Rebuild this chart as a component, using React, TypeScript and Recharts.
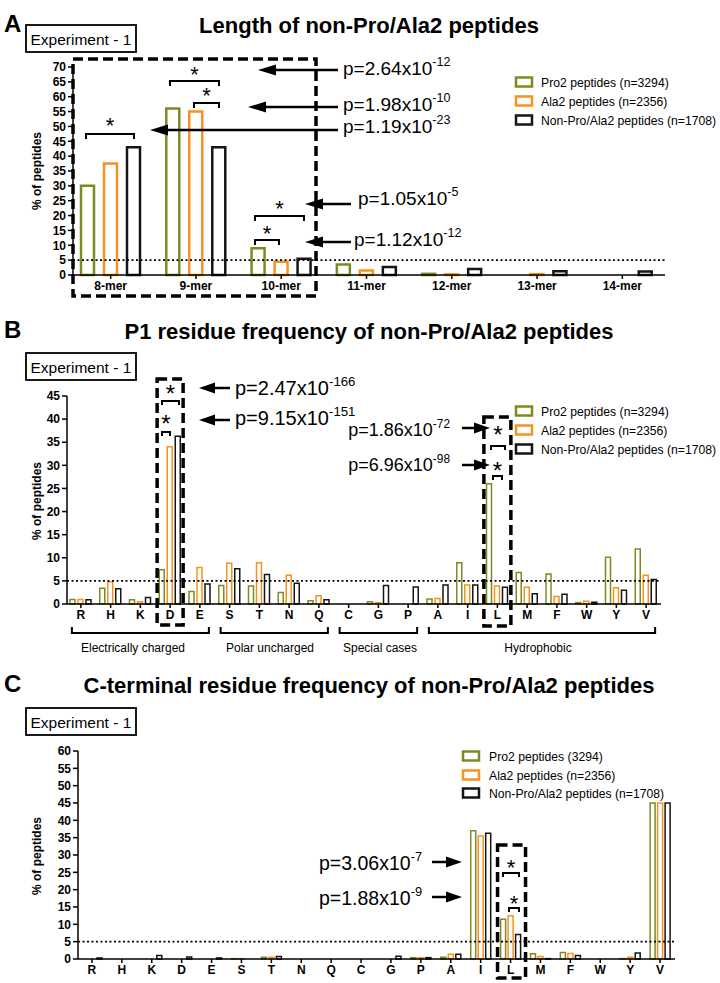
import React from 'react';
import { BarChart, Bar, XAxis, YAxis, ReferenceLine } from 'recharts';

const FONT = '"Liberation Sans", Arial, Helvetica, sans-serif';
const GREEN = '#7e8a22';
const ORANGE = '#f6921e';
const BLACK = '#151515';

// A: peptide length
const lengthCats = ['8-mer', '9-mer', '10-mer', '11-mer', '12-mer', '13-mer', '14-mer'];
const lengthPro2 = [30, 56, 9, 3.5, 0.4, 0, 0];
const lengthAla2 = [37.5, 55, 4.5, 1.5, 0.2, 0.3, 0];
const lengthNon = [43, 43, 5.5, 2.7, 2, 1.3, 1.2];
const ticksA = [0, 5, 10, 15, 20, 25, 30, 35, 40, 45, 50, 55, 60, 65, 70];

// B and C share the residue order
const residues = ['R', 'H', 'K', 'D', 'E', 'S', 'T', 'N', 'Q', 'C', 'G', 'P', 'A', 'I', 'L', 'M', 'F', 'W', 'Y', 'V'];

// B: P1 residue
const p1Pro2 = [1.0, 3.4, 0.9, 7.4, 2.7, 4.0, 3.9, 2.5, 0.7, 0, 0.5, 0, 1.1, 8.9, 26, 6.8, 6.5, 0.3, 10.1, 11.9];
const p1Ala2 = [1.0, 4.8, 0.5, 34, 7.9, 8.8, 8.9, 6.2, 1.8, 0, 0.3, 0, 1.2, 4.1, 3.9, 3.6, 1.6, 0.6, 3.5, 6.2];
const p1Non = [0.9, 3.3, 1.4, 36.3, 4.3, 7.6, 6.4, 4.5, 0.9, 0, 4.0, 3.7, 4.1, 4.1, 3.6, 2.2, 2.1, 0.4, 3.0, 5.3];
const ticksB = [0, 5, 10, 15, 20, 25, 30, 35, 40, 45];

// C: C-terminal residue
const ctPro2 = [0, 0, 0, 0, 0, 0.1, 0.5, 0, 0, 0, 0, 0.4, 0.5, 37, 11.5, 1.5, 1.9, 0, 0.1, 45];
const ctAla2 = [0, 0, 0, 0, 0, 0.1, 0.5, 0, 0, 0, 0, 0.4, 1.4, 35.5, 12.5, 0.7, 1.6, 0, 0.5, 45];
const ctNon = [0.3, 0, 1.0, 0.6, 0.3, 0, 0.7, 0, 0, 0, 0.8, 0.4, 1.4, 36.3, 7.1, 0.1, 1.0, 0, 1.7, 45];
const ticksC = [0, 5, 10, 15, 20, 25, 30, 35, 40, 45, 50, 55, 60];

const legendAB = ['Pro2 peptides (n=3294)', 'Ala2 peptides (n=2356)', 'Non-Pro/Ala2 peptides (n=1708)'];
const legendC = ['Pro2 peptides (3294)', 'Ala2 peptides (n=2356)', 'Non-Pro/Ala2 peptides (n=1708)'];
const groups = [
  { label: 'Electrically charged', from: 0, to: 4, cx: 133 },
  { label: 'Polar uncharged', from: 5, to: 8, cx: 270 },
  { label: 'Special cases', from: 9, to: 11, cx: 380 },
  { label: 'Hydrophobic', from: 12, to: 19, cx: 538 },
];

const toRows = (cats: string[], a: number[], b: number[], c: number[]) =>
  cats.map((cat, i) => ({ cat, pro2: a[i], ala2: b[i], non: c[i] }));

type Geo = {
  top: number; height: number; left: number; right: number; padLeft: number;
  plotTop: number; plotBottom: number; n: number; barSize: number; barGap: number;
};

// left = where the y axis sits; padLeft shifts the category band start
const GA: Geo = { top: 0, height: 300, left: 73, right: 665, padLeft: -5, plotTop: 67, plotBottom: 275, n: 7, barSize: 13, barGap: 10 };
const GB: Geo = { top: 300, height: 330, left: 67, right: 661, padLeft: -1, plotTop: 396, plotBottom: 604, n: 20, barSize: 5, barGap: 3 };
const GC: Geo = { top: 620, height: 363, left: 78, right: 675, padLeft: -1, plotTop: 751, plotBottom: 959, n: 20, barSize: 5, barGap: 2.5 };

const catX = (g: Geo, i: number) => {
  const start = g.left + g.padLeft;
  return start + ((g.right - start) / g.n) * (i + 0.5);
};

const axisStyle = { stroke: '#000', strokeWidth: 1.5 };
const tickStyle = { fill: '#000', fontSize: 12, fontWeight: 700, fontFamily: FONT };

function Panel({ rows, geo, ticks, sw }: { rows: any[]; geo: Geo; ticks: number[]; sw: number }) {
  const margin = {
    top: geo.plotTop - geo.top,
    left: geo.left - 40,
    right: 720 - geo.right,
    bottom: geo.top + geo.height - geo.plotBottom - 20,
  };
  return (
    <div style={{ position: 'absolute', left: 0, top: geo.top }}>
      <BarChart width={720} height={geo.height} data={rows} margin={margin} barSize={geo.barSize} barGap={geo.barGap}>
        <XAxis
          dataKey="cat"
          interval={0}
          height={20}
          tickSize={4}
          padding={{ left: geo.padLeft, right: 0 }}
          axisLine={axisStyle}
          tickLine={axisStyle}
          tick={tickStyle}
        />
        <YAxis
          type="number"
          domain={[0, ticks[ticks.length - 1]]}
          ticks={ticks}
          interval={0}
          width={40}
          tickSize={5}
          axisLine={axisStyle}
          tickLine={axisStyle}
          tick={tickStyle}
        />
        <Bar dataKey="pro2" fill="#fff" stroke={GREEN} strokeWidth={sw} isAnimationActive={false} />
        <Bar dataKey="ala2" fill="#fff" stroke={ORANGE} strokeWidth={sw} isAnimationActive={false} />
        <Bar dataKey="non" fill="#fff" stroke={BLACK} strokeWidth={sw} isAnimationActive={false} />
        <ReferenceLine y={5} stroke="#000" strokeWidth={1.8} strokeDasharray="2 2.5" />
      </BarChart>
    </div>
  );
}

function Arrow({ x1, x2, y, head = 16, half = 5.5 }: { x1: number; x2: number; y: number; head?: number; half?: number }) {
  const d = x2 > x1 ? 1 : -1;
  const base = x2 - d * head;
  return (
    <g>
      <line x1={x1} y1={y} x2={base} y2={y} stroke="#000" strokeWidth={2.5} />
      <polygon points={`${x2},${y} ${base},${y - half} ${base},${y + half}`} fill="#000" />
    </g>
  );
}

function PVal({ x, y, m, e, size = 19, anchor = 'start' }: { x: number; y: number; m: string; e: string; size?: number; anchor?: string }) {
  return (
    <text x={x} y={y} fontSize={size} fontFamily={FONT} textAnchor={anchor as any}>
      {`p=${m}x10`}
      <tspan dy={-size * 0.45} fontSize={size * 0.66}>{e}</tspan>
    </text>
  );
}

function Sig({ x1, x2, y, sy, size = 22, t = 5 }: { x1: number; x2: number; y: number; sy: number; size?: number; t?: number }) {
  return (
    <g>
      <path d={`M${x1},${y + t}V${y}H${x2}V${y + t}`} fill="none" stroke="#000" strokeWidth={2} />
      <text x={(x1 + x2) / 2} y={sy + size * 0.57} fontSize={size} textAnchor="middle" fontFamily={FONT}>*</text>
    </g>
  );
}

function DashBox({ x, y, w, h }: { x: number; y: number; w: number; h: number }) {
  return <rect x={x} y={y} width={w} height={h} fill="none" stroke="#000" strokeWidth={3.5} strokeDasharray="10 5" />;
}

function ExpBox({ y }: { y: number }) {
  return (
    <g>
      <rect x={26} y={y} width={110} height={27} fill="#fff" stroke="#000" strokeWidth={1.8} />
      <text x={30.5} y={y + 20} fontSize={15.5} fontFamily={FONT}>Experiment - 1</text>
    </g>
  );
}

function Heading({ letter, title, y }: { letter: string; title: string; y: number }) {
  return (
    <g fontFamily={FONT} fontWeight={700}>
      <text x={4} y={y - 1} fontSize={24}>{letter}</text>
      <text x={369} y={y} fontSize={22} textAnchor="middle">{title}</text>
    </g>
  );
}

function YLabel({ cy }: { cy: number }) {
  return (
    <text x={41} y={cy} transform={`rotate(-90 41 ${cy})`} textAnchor="middle" fontSize={12} fontWeight={700} fontFamily={FONT}>
      % of peptides
    </text>
  );
}

function Legend3({ x, tx, ys, labels }: { x: number; tx: number; ys: number[]; labels: string[] }) {
  const cols = [GREEN, ORANGE, BLACK];
  return (
    <g>
      {labels.map((l, i) => (
        <g key={l}>
          <rect x={x} y={ys[i] - 4.5} width={16} height={9} fill="#fff" stroke={cols[i]} strokeWidth={2.5} />
          <text x={tx} y={ys[i] + 4.5} fontSize={12.2} fontFamily={FONT}>{l}</text>
        </g>
      ))}
    </g>
  );
}

export default function App() {
  const rowsA = toRows(lengthCats, lengthPro2, lengthAla2, lengthNon);
  const rowsB = toRows(residues, p1Pro2, p1Ala2, p1Non);
  const rowsC = toRows(residues, ctPro2, ctAla2, ctNon);

  return (
    <div style={{ position: 'absolute', left: 0, top: 0, width: 720, height: 983, background: '#fff', overflow: 'hidden' }}>
      <Panel rows={rowsA} geo={GA} ticks={ticksA} sw={2.5} />
      <Panel rows={rowsB} geo={GB} ticks={ticksB} sw={1.5} />
      <Panel rows={rowsC} geo={GC} ticks={ticksC} sw={1.5} />

      <svg width={720} height={983} style={{ position: 'absolute', left: 0, top: 0, pointerEvents: 'none' }}>
        {/* A */}
        <Heading letter="A" title="Length of non-Pro/Ala2 peptides" y={33} />
        <ExpBox y={25} />
        <YLabel cy={171} />
        <Legend3 x={516} tx={541} ys={[82, 101, 120]} labels={legendAB} />
        <DashBox x={73} y={59} w={243} h={237} />
        <Sig x1={86} x2={134} y={134} sy={120} />
        <Sig x1={170} x2={219} y={81} sy={69} />
        <Sig x1={194} x2={219} y={103} sy={90} />
        <Sig x1={255} x2={304} y={216} sy={203} />
        <Sig x1={255} x2={279} y={240} sy={228} />
        <Arrow x1={338} x2={258} y={70} head={18} />
        <Arrow x1={338} x2={248} y={107} head={18} />
        <Arrow x1={338} x2={150} y={130} head={18} />
        <Arrow x1={351} x2={305} y={204} head={18} />
        <Arrow x1={351} x2={305} y={242} head={18} />
        <PVal x={343} y={75} m="2.64" e="-12" />
        <PVal x={343} y={111} m="1.98" e="-10" />
        <PVal x={343} y={133} m="1.19" e="-23" />
        <PVal x={358} y={205} m="1.05" e="-5" />
        <PVal x={354} y={246} m="1.12" e="-12" />

        {/* B */}
        <Heading letter="B" title="P1 residue frequency of non-Pro/Ala2 peptides" y={339} />
        <ExpBox y={353} />
        <YLabel cy={501} />
        <Legend3 x={516} tx={541} ys={[411, 430, 449]} labels={legendAB} />
        <DashBox x={catX(GB, 3) - 13} y={379} w={26} h={246} />
        <DashBox x={catX(GB, 14) - 13.5} y={417} w={27} h={209} />
        <Sig x1={162} x2={179} y={401} sy={388} size={24} t={4} />
        <Sig x1={162} x2={170} y={432} sy={418} size={24} t={4} />
        <Sig x1={491} x2={505} y={446} sy={429} size={24} t={4} />
        <Sig x1={493} x2={502} y={476} sy={465} size={24} t={4} />
        <Arrow x1={230} x2={199} y={388} />
        <Arrow x1={230} x2={199} y={420} />
        <Arrow x1={462} x2={490} y={428} />
        <Arrow x1={462} x2={490} y={465} />
        <PVal x={235} y={395} m="2.47" e="-166" size={20} />
        <PVal x={235} y={425} m="9.15" e="-151" size={20} />
        <PVal x={450} y={436} m="1.86" e="-72" size={18} anchor="end" />
        <PVal x={450} y={471} m="6.96" e="-98" size={18} anchor="end" />
        {groups.map((g) => {
          const x1 = catX(GB, g.from) - 9;
          const x2 = catX(GB, g.to) + 9;
          return (
            <g key={g.label}>
              <path d={`M${x1},627V633H${x2}V627`} fill="none" stroke="#000" strokeWidth={2} />
              <text x={g.cx} y={652} fontSize={12} textAnchor="middle" fontFamily={FONT}>{g.label}</text>
            </g>
          );
        })}

        {/* C */}
        <Heading letter="C" title="C-terminal residue frequency of non-Pro/Ala2 peptides" y={693} />
        <ExpBox y={708} />
        <YLabel cy={856} />
        <Legend3 x={463} tx={489} ys={[756, 775, 793]} labels={legendC} />
        <DashBox x={catX(GC, 14) - 13} y={845} w={28} h={133} />
        <Sig x1={503} x2={519} y={873} sy={862} t={4} />
        <Sig x1={509} x2={519} y={908} sy={898} t={4} />
        <Arrow x1={432} x2={462} y={862} />
        <Arrow x1={432} x2={462} y={897} />
        <PVal x={319} y={870} m="3.06" e="-7" size={19.5} />
        <PVal x={319} y={905} m="1.88" e="-9" size={19.5} />
      </svg>
    </div>
  );
}
